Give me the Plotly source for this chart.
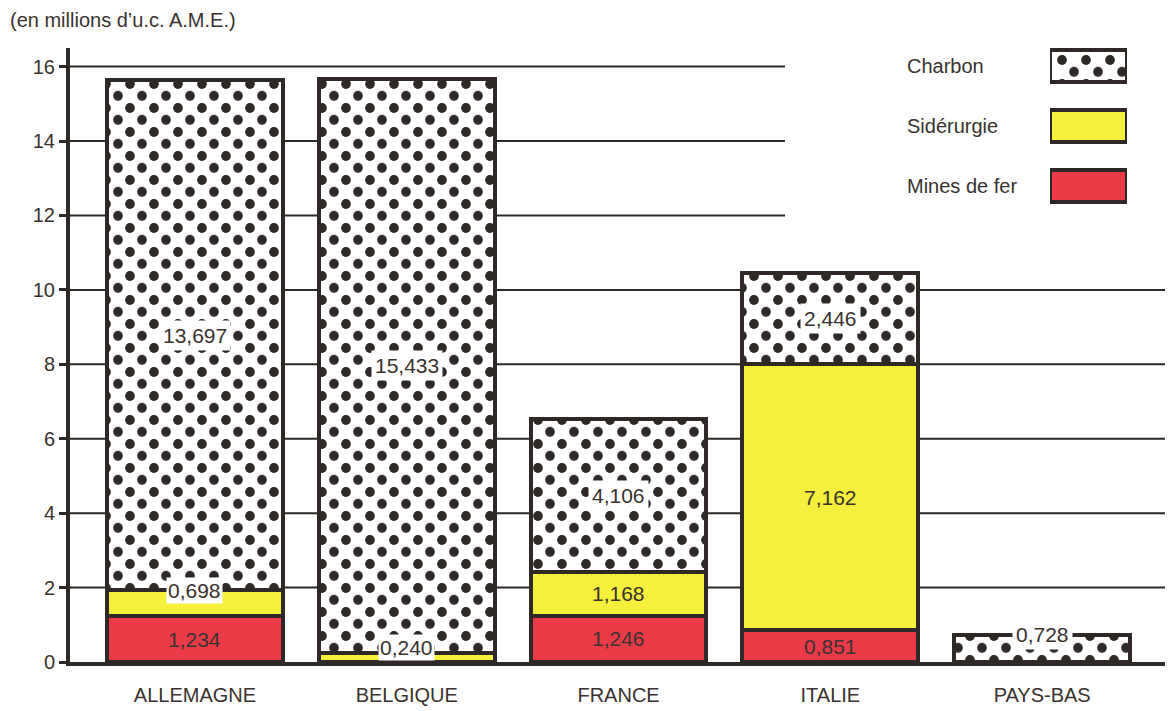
import plotly.graph_objects as go

# Aides CECA par pays et par secteur (en millions d'u.c. A.M.E.)
pays = ["ALLEMAGNE", "BELGIQUE", "FRANCE", "ITALIE", "PAYS-BAS"]
mines_de_fer = [1.234, None, 1.246, 0.851, None]
siderurgie = [0.698, 0.240, 1.168, 7.162, None]
charbon = [13.697, 15.433, 4.106, 2.446, 0.728]

series = ["Charbon", "Sidérurgie", "Mines de fer"]
y_ticks = [0, 2, 4, 6, 8, 10, 12, 14, 16]

INK = "#2e2826"
TEXT = "#39322f"
YELLOW = "#f6ef3c"
RED = "#ec3b47"
CLEAR = "rgba(0,0,0,0)"
FONT = "Liberation Sans"
FS = 20
LW = 4

W, H = 1170, 711
L, R, T, B = 70, 5, 48, 41
PW, PH = W - L - R, H - T - B
X_RANGE = [-0.59, 4.58]
Y_RANGE = [0, 16.5]

TILE = 24          # dot pattern tile, px
HALF = TILE / 2    # offset of the second (staggered) dot lattice


def fr(v):
    return f"{v:.3f}".replace(".", ",")


def dots(bg):
    return dict(shape=".", fgcolor=INK, bgcolor=bg, size=TILE,
                solidity=0.13, fillmode="replace")


def shifted(rng, dom, shift_px, span_px, from_start):
    """Axis range/domain moved by shift_px so the pattern origin moves
    while data keep the same screen position."""
    d = shift_px / span_px
    u = shift_px * (rng[1] - rng[0]) / (span_px * (dom[1] - dom[0]))
    if from_start:
        return [rng[0] + u, rng[1]], [dom[0] + d, dom[1]]
    return [rng[0], rng[1] - u], [dom[0], dom[1] - d]


def num(v):
    return 0.0 if v is None else v


base_charbon = [num(m) + num(s) for m, s in zip(mines_de_fer, siderurgie)]

fig = go.Figure()

fig.add_bar(x=pays, y=mines_de_fer, name="Mines de fer",
            marker=dict(color=RED, line=dict(color=INK, width=LW)))
fig.add_bar(x=pays, y=siderurgie, name="Sidérurgie",
            marker=dict(color=YELLOW, line=dict(color=INK, width=LW)))
fig.add_bar(x=pays, y=charbon, base=base_charbon, name="Charbon",
            marker=dict(color="white", pattern=dots("white"),
                        line=dict(color=INK, width=LW)))
# second lattice of dots, half a tile across and down
fig.add_bar(x=pays, y=charbon, base=base_charbon, xaxis="x3", yaxis="y3",
            showlegend=False, hoverinfo="skip",
            marker=dict(color=CLEAR, pattern=dots(CLEAR),
                        line=dict(color=INK, width=LW)))

# value labels inside each segment
annotations = []
for i, p in enumerate(pays):
    base = 0.0
    for vals, on_dots in ((mines_de_fer, False), (siderurgie, False),
                          (charbon, True)):
        v = vals[i]
        if v is None:
            continue
        small = v < 0.8
        y = base + v if small else base + v / 2
        annotations.append(dict(
            x=p, y=y, xref="x", yref="y", text=fr(v), showarrow=False,
            font=dict(family=FONT, size=FS + 1, color=TEXT),
            bgcolor="white" if (on_dots or small) else None,
            borderpad=3 if on_dots else 1,
            yshift=6 if (small and v < 0.5) else 0))
        base += v

# legend block: swatches drawn as small bars on their own axes
leg_dom_x = [(1050 - L) / PW, (1127 - L) / PW]
leg_dom_y = [(H - B - 206) / PH, (H - B - 48) / PH]
leg_rx, leg_ry = [0, 1], [2.3, -0.3]
fills = {"Charbon": dict(color="white", pattern=dots("white")),
         "Sidérurgie": dict(color=YELLOW),
         "Mines de fer": dict(color=RED)}
for s in series:
    fig.add_bar(x=[1], y=[s], orientation="h", xaxis="x2", yaxis="y2",
                width=0.53, showlegend=False, hoverinfo="skip",
                marker=dict(line=dict(color=INK, width=LW), **fills[s]))
    annotations.append(dict(
        x=(905 - L) / PW, y=s, xref="paper", yref="y2",
        xanchor="left", text=s, showarrow=False,
        font=dict(family=FONT, size=FS, color=TEXT)))
fig.add_bar(x=[1], y=[series[0]], orientation="h", xaxis="x4", yaxis="y4",
            width=0.53, showlegend=False, hoverinfo="skip",
            marker=dict(color=CLEAR, pattern=dots(CLEAR),
                        line=dict(color=INK, width=LW)))

annotations.append(dict(
    x=(8 - L) / PW, y=(H - B - 20) / PH, xref="paper",
    yref="paper", xanchor="left", yanchor="middle",
    text="(en millions d\u2019u.c. A.M.E.)", showarrow=False,
    font=dict(family=FONT, size=FS, color=TEXT)))

# horizontal rules; the upper ones stop short of the legend block
shapes = []
legend_edge = X_RANGE[0] + (785 - L) / PW * (X_RANGE[1] - X_RANGE[0])
for t in y_ticks[1:]:
    shapes.append(dict(type="line", xref="x", yref="y", layer="below",
                       x0=X_RANGE[0], x1=legend_edge if t >= 12 else X_RANGE[1],
                       y0=t, y1=t, line=dict(color=INK, width=2)))

x3_rng, x3_dom = shifted(X_RANGE, [0, 1], HALF, PW, True)
y3_rng, y3_dom = shifted(Y_RANGE, [0, 1], HALF, PH, False)
x4_rng, x4_dom = shifted(leg_rx, leg_dom_x, HALF, PW, True)
# reversed category axis: trimming the top end of the domain moves the origin down
y4_rng, y4_dom = shifted(leg_ry, leg_dom_y, HALF, PH, False)

hidden = dict(visible=False, fixedrange=True, showgrid=False, zeroline=False)

fig.update_layout(
    width=W, height=H,
    margin=dict(l=L, r=R, t=T, b=B),
    barmode="stack", bargap=0.17,
    paper_bgcolor="white", plot_bgcolor=CLEAR,
    showlegend=False,
    font=dict(family=FONT, color=TEXT),
    annotations=annotations, shapes=shapes,
    xaxis=dict(range=X_RANGE, showgrid=False, zeroline=False,
               showline=True, linecolor=INK, linewidth=LW,
               ticks="outside", ticklen=12, tickcolor=CLEAR,
               tickfont=dict(family=FONT, size=FS, color=TEXT)),
    yaxis=dict(range=Y_RANGE, tickvals=y_ticks, showgrid=False,
               zeroline=False, showline=True, linecolor=INK, linewidth=LW,
               ticks="outside", ticklen=7, tickwidth=3, tickcolor=INK,
               tickfont=dict(family=FONT, size=FS, color=TEXT)),
    xaxis2=dict(domain=leg_dom_x, range=leg_rx, anchor="y2", **hidden),
    yaxis2=dict(domain=leg_dom_y, range=leg_ry, anchor="x2",
                type="category", categoryorder="array",
                categoryarray=series, **hidden),
    xaxis3=dict(domain=x3_dom, range=x3_rng, anchor="y3", **hidden),
    yaxis3=dict(domain=y3_dom, range=y3_rng, anchor="x3", **hidden),
    xaxis4=dict(domain=x4_dom, range=x4_rng, anchor="y4", **hidden),
    yaxis4=dict(domain=y4_dom, range=y4_rng, anchor="x4",
                type="category", categoryorder="array",
                categoryarray=series, **hidden),
)

fig.write_html("out.html")
